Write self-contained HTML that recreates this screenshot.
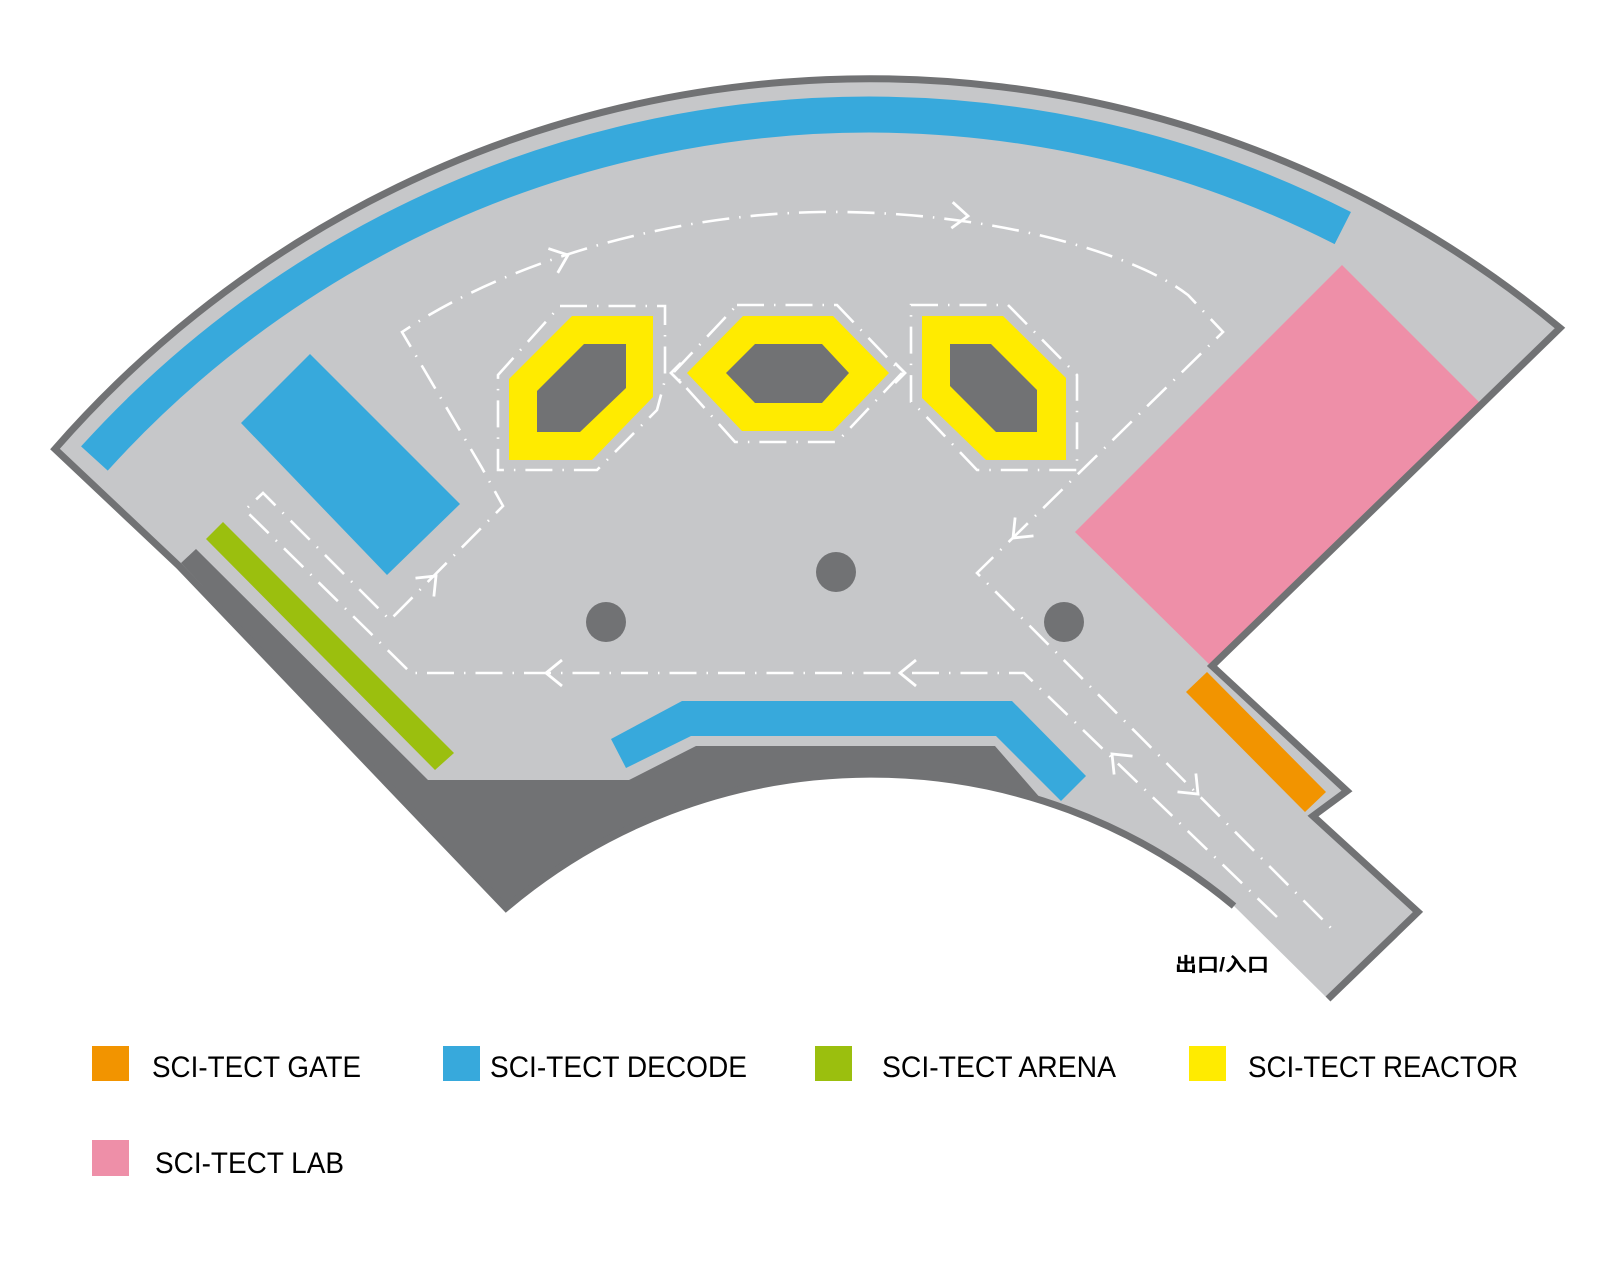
<!DOCTYPE html>
<html><head><meta charset="utf-8"><style>
html,body{margin:0;padding:0;background:#fff;}
svg{display:block;}
</style></head><body>
<svg width="1600" height="1285" viewBox="0 0 1600 1285" xmlns="http://www.w3.org/2000/svg">
<path d="M55,449 L179,566 L506,908 A565,565 0 0,1 1234,906 L1328,999 L1418,912 L1313,816 L1347,791 L1212,666 L1560,328 A1081,1081 0 0,0 55,449 Z" fill="#c6c7c9"/>
<path d="M181,563 L196,549 L428,780 L629,780 L696,746 L995,746 L1042,800 A565,565 0 0,0 506,908 Z" fill="#717274"/>
<path d="M94.4,458.5 A1045,1045 0 0,1 1342.8,228.1" fill="none" stroke="#37a9dc" stroke-width="36"/>
<polygon points="310,354 460,504 387,575 241,423" fill="#37a9dc"/>
<polygon points="223,522 454,753 435,770 206,539" fill="#9bbf0e"/>
<polygon points="611,739 682,701 1012,701 1086,776 1061,801 996,736 691,736 626,768" fill="#37a9dc"/>
<polygon points="1342,265 1482,405 1212,667 1075,532" fill="#ee8fa8"/>
<polygon points="1207,672 1186,692 1305,812 1326,792" fill="#f29400"/>
<path d="M1328,999 L1418,912 L1313,816 L1347,791 L1212,666 L1560,328 A1081,1081 0 0,0 55,449 L179,566 L506,908 A565,565 0 0,1 1234,906" fill="none" stroke="#717274" stroke-width="7"/>
<polygon points="572,316 653,316 653,397 592,460 509,460 509,379" fill="#ffeb00"/>
<polygon points="584,344 626,344 626,388 580,432 537,432 537,391" fill="#717274"/>
<polygon points="687,373 743,316 833,316 889,373 833,431 742,431" fill="#ffeb00"/>
<polygon points="726,373 755,344 822,344 849,373 822,403 755,403" fill="#717274"/>
<polygon points="922,316 1003,316 1066,378 1066,460 986,460 922,398" fill="#ffeb00"/>
<polygon points="950,344 991,344 1037,390 1037,432 996,432 950,386" fill="#717274"/>
<circle cx="606" cy="622" r="20" fill="#717274"/>
<circle cx="836" cy="572" r="20" fill="#717274"/>
<circle cx="1064" cy="622" r="20" fill="#717274"/>
<g fill="none" stroke="#fff" stroke-width="2.6" stroke-dasharray="27 10 1.5 10">
<path d="M1277,917 L1024,673 L411,673 L245,510 L263,493 L390,620 L503,506 L482,468 L402,332 L416,323 C500,270 650,215 820,212 C980,210 1130,250 1188,295 L1223,332 L977,573 L1333,930"/>
<polygon points="560,306 665,306 665,380 657,410 597,470 498,470 498,375"/>
<polygon points="737,305 837,305 902,373 837,442 735,442 673,373"/>
<polygon points="911,305 1008,305 1077,375 1077,470 977,470 920,410 911,402"/>
</g>
<g fill="none" stroke="#fff" stroke-width="2.8">
<path d="M-16,-13 L0,0 L-16,13" transform="translate(436,576) rotate(-45)"/>
<path d="M-16,-13 L0,0 L-16,13" transform="translate(568,255) rotate(-21)"/>
<path d="M-16,-13 L0,0 L-16,13" transform="translate(968,216) rotate(3)"/>
<path d="M-16,-13 L0,0 L-16,13" transform="translate(1013,538) rotate(135)"/>
<path d="M-16,-13 L0,0 L-16,13" transform="translate(546,673) rotate(180)"/>
<path d="M-16,-13 L0,0 L-16,13" transform="translate(900,673) rotate(180)"/>
<path d="M-16,-13 L0,0 L-16,13" transform="translate(1112,754) rotate(-135)"/>
<path d="M-16,-13 L0,0 L-16,13" transform="translate(1198,794) rotate(45)"/>
<path d="M-10,-10 L0,0 L-10,10" transform="translate(671,373) rotate(180)"/>
<path d="M-10,-10 L0,0 L-10,10" transform="translate(905,373)"/>
</g>
<text x="1175" y="971" font-family="Liberation Sans, Noto Sans CJK SC, sans-serif" font-weight="bold" font-size="19" fill="#000" textLength="94" lengthAdjust="spacingAndGlyphs">出口/入口</text>
<g font-family="Liberation Sans, sans-serif" font-size="30" fill="#000">
<rect x="92" y="1046" width="37" height="35" fill="#f29400"/>
<text x="152" y="1077" textLength="209" lengthAdjust="spacingAndGlyphs">SCI-TECT GATE</text>
<rect x="443" y="1046" width="37" height="35" fill="#37a9dc"/>
<text x="490" y="1077" textLength="257" lengthAdjust="spacingAndGlyphs">SCI-TECT DECODE</text>
<rect x="815" y="1046" width="37" height="35" fill="#9bbf0e"/>
<text x="882" y="1077" textLength="234" lengthAdjust="spacingAndGlyphs">SCI-TECT ARENA</text>
<rect x="1189" y="1046" width="37" height="35" fill="#ffeb00"/>
<text x="1248" y="1077" textLength="270" lengthAdjust="spacingAndGlyphs">SCI-TECT REACTOR</text>
<rect x="92" y="1140" width="37" height="36" fill="#ee8fa8"/>
<text x="155" y="1173" textLength="189" lengthAdjust="spacingAndGlyphs">SCI-TECT LAB</text>
</g>
</svg>
</body></html>
